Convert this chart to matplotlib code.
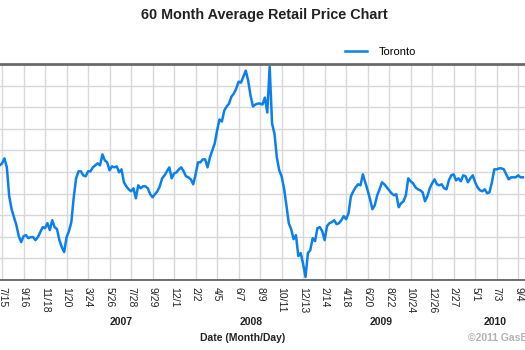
import pandas as pd
import numpy as np
import matplotlib.pyplot as plt
import matplotlib.dates as mdates
import matplotlib.transforms as mtransforms

# weekly Toronto average retail price (cents/L), starting 2006-07-08
prices = [109.5, 110.1, 111.6, 108.9, 100.2, 96.3, 93.9, 91.5, 88.2, 86.4,
          88.2, 88.5, 87.6, 87.9, 87.9, 87.0, 87.9, 89.4, 90.9, 90.6,
          92.1, 90.0, 93.0, 90.9, 90.3, 87.0, 84.9, 83.4, 87.9, 89.7,
          92.4, 99.9, 105.6, 107.7, 107.7, 106.5, 106.2, 107.7, 107.7, 108.9,
          109.5, 110.1, 109.5, 112.8, 111.0, 110.4, 108.0, 109.2, 108.9, 109.2,
          107.4, 108.3, 104.4, 103.2, 102.3, 101.7, 102.6, 99.6, 103.5, 102.6,
          103.2, 103.2, 102.6, 100.8, 99.9, 100.8, 101.7, 103.2, 105.6, 106.5,
          107.7, 108.9, 105.6, 107.1, 107.4, 108.3, 108.9, 107.7, 106.2, 105.9,
          105.3, 103.8, 106.8, 110.4, 110.4, 111.3, 111.3, 108.9, 111.9, 114.0,
          116.1, 120.0, 123.3, 122.7, 126.0, 127.2, 128.1, 130.2, 131.1, 132.6,
          134.7, 134.4, 136.2, 138.0, 135.0, 130.5, 127.2, 127.8, 128.1, 128.1,
          127.8, 129.9, 125.4, 139.2, 122.1, 119.1, 111.9, 108.0, 106.2, 102.6,
          97.5, 92.1, 90.3, 87.3, 88.5, 82.2, 83.1, 79.8, 75.9, 83.1,
          84.0, 87.6, 86.7, 90.6, 90.9, 89.7, 87.0, 91.2, 92.1, 92.4,
          93.0, 91.8, 92.1, 93.0, 94.2, 93.3, 95.1, 100.2, 101.7, 102.9,
          103.8, 103.5, 106.8, 104.4, 102.0, 99.3, 96.3, 97.5, 100.5, 102.3,
          104.4, 103.8, 102.9, 102.0, 101.1, 100.5, 100.8, 96.9, 98.1, 98.7,
          100.5, 105.6, 104.7, 104.1, 102.9, 102.3, 102.0, 101.4, 98.7, 100.2,
          102.6, 104.1, 105.3, 103.8, 103.5, 103.8, 102.6, 102.3, 105.0, 106.5,
          106.8, 105.0, 105.6, 104.7, 106.5, 106.2, 104.4, 105.6, 106.5, 104.4,
          102.9, 102.0, 101.7, 102.3, 101.1, 101.4, 104.4, 108.3, 108.3, 108.6,
          108.6, 108.3, 106.8, 105.3, 105.9, 105.9, 105.9, 106.5, 105.9, 105.9]
dates = pd.date_range('2006-07-08', periods=len(prices), freq='7D')

tick_dates = pd.date_range('2006-07-15', '2010-09-10', freq='63D')
years = ['2007', '2008', '2009', '2010']
year_pos = pd.to_datetime(['2007-06-28', '2008-07-13', '2009-07-30', '2010-06-28'])

plt.rcParams['font.family'] = ['Liberation Sans', 'DejaVu Sans']

fig = plt.figure(figsize=(5.25, 3.5), dpi=100)
ax = fig.add_axes([0, 0.2, 1, 0.6171])

ax.plot(dates, prices, color='#0a7ff0', lw=1.8, label='Toronto', zorder=3)

ax.set_xlim(pd.Timestamp('2006-07-09'), pd.Timestamp('2010-09-24'))
ax.set_ylim(75, 140)
ax.set_yticks(np.arange(75, 140.1, 6.5))
ax.set_xticks(tick_dates)
ax.xaxis.set_major_formatter(mdates.DateFormatter('%-m/%-d'))
ax.tick_params(axis='x', length=0, pad=5, labelsize=7.5, rotation=-90,
               colors='#222222')
ax.tick_params(axis='y', length=0, labelleft=False)
for lbl in ax.get_xticklabels():
    lbl.set_va('top')
    lbl.set_ha('center')
ax.grid(True, color='#d8d8d8', lw=1)
ax.set_axisbelow(True)
for s in ['left', 'right']:
    ax.spines[s].set_visible(False)
ax.spines['top'].set_color('#6a6a6a')
ax.spines['top'].set_linewidth(2)
ax.spines['bottom'].set_color('#555555')
ax.spines['bottom'].set_linewidth(1.2)

trans = mtransforms.blended_transform_factory(ax.transData, fig.transFigure)
for y, d in zip(years, year_pos):
    ax.text(d, 1 - 322 / 350, y, transform=trans, ha='center', va='center',
            fontsize=7.5, fontweight='bold', color='#222222')

fig.text(243 / 525, 1 - 338 / 350, 'Date (Month/Day)', ha='center', va='center',
         fontsize=7.5, fontweight='bold', color='#222222')
fig.text(468 / 525, 1 - 338 / 350, '\u00a92011 GasBuddy.com', ha='left',
         va='center', fontsize=7.5, fontweight='bold', color='#b4b4b4')
fig.text(264 / 525, 1 - 15 / 350, '60 Month Average Retail Price Chart',
         ha='center', va='center', fontsize=10.4, fontweight='bold',
         color='#222222')

ax.legend(loc='lower left', bbox_to_anchor=(338 / 525, 1.0), frameon=False,
          fontsize=8, handlelength=2.0, handletextpad=1.1, borderaxespad=0.2)

fig.savefig('out.png', dpi=100)
